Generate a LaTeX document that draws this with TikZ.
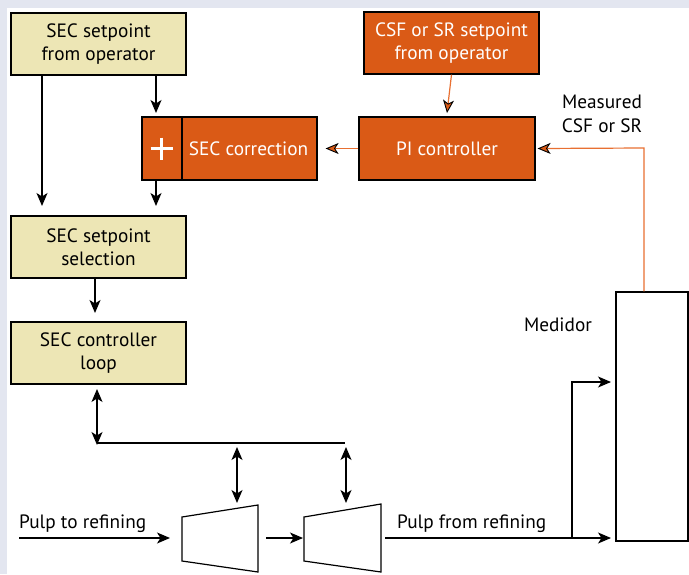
\documentclass[tikz,border=0pt]{standalone}
\usepackage{fontspec}
\setmainfont{PT Sans}
\usetikzlibrary{arrows.meta}
\definecolor{frameC}{RGB}{227,230,240}
\definecolor{beigeC}{RGB}{237,230,181}
\definecolor{rustC}{RGB}{218,90,22}
\definecolor{wireC}{RGB}{232,112,50}
\begin{document}
\begin{tikzpicture}[x=1pt,y=-1pt,
  font=\fontsize{19.3}{23.5}\selectfont,
  box/.style={draw=black, line width=1.2pt, minimum width=175pt,
    minimum height=62pt, align=center, inner sep=0pt},
  opbox/.style={box, fill=beigeC},
  ctlbox/.style={box, fill=rustC, text=white},
  tipk/.tip={Stealth[length=13pt,width=11pt,inset=3.5pt]},
  tipo/.tip={Stealth[length=13pt,width=11pt,inset=3.5pt,color=black,fill=rustC,line width=0.9pt]},
  flow/.style={line width=1.2pt, -tipk},
  twoway/.style={line width=1.2pt, tipk-tipk},
  plain/.style={line width=1.2pt},
  sig/.style={draw=wireC, line width=1.2pt, -tipo},
  lbl/.style={align=center, inner sep=0pt},
]
% page frame
\fill[frameC] (0,0) rectangle (689,574);
\fill[white] (7,8) rectangle (689,574);
\useasboundingbox (0,0) rectangle (689,574);

% blocks
\node[opbox] (secop) at (98.5,44) {SEC setpoint\\from operator};
\node[ctlbox] (csfop) at (451.5,43) {CSF or SR setpoint\\from operator};
\node[box, fill=rustC, minimum width=175pt, minimum height=63pt] (corr) at (229.5,148.5) {};
\node[text=white, lbl] (corrtxt) at (248.5,148.5) {SEC correction};
\draw[line width=1.2pt] (182,117) -- (182,180);
\draw[white, line width=2.4pt] (150.5,148.5) -- (172.5,148.5) (161.5,137.5) -- (161.5,159.5);
\node[ctlbox, minimum width=176pt, minimum height=63pt] (pi) at (447,148.5) {PI controller};
\node[opbox] (sel) at (98.5,247) {SEC setpoint\\selection};
\node[opbox] (loop) at (98.5,353) {SEC controller\\loop};
\node[box, minimum width=72pt, minimum height=249pt] (med) at (652,416.5) {};
\node[lbl] (medtxt) at (558,325) {Medidor};
\node[lbl] (meas) at (602,114) {Measured\\CSF or SR};
\node[lbl, anchor=base west] (pin) at (19,528) {Pulp to refining};
\node[lbl, anchor=base west] (pout) at (397,528) {Pulp from refining};

% refiners
\draw[plain, fill=white] (182,517) -- (258,505) -- (258,572) -- (182,561) -- cycle;
\draw[plain, fill=white] (304,517) -- (381,504) -- (381,572) -- (304,561) -- cycle;
\coordinate (r1in) at (182,538);
\coordinate (r1out) at (258,538);
\coordinate (r2in) at (304,538);
\coordinate (r2out) at (381,538);
\coordinate (r1top) at (237,503);
\coordinate (r2top) at (346,503);

% setpoint path
\draw[flow] (secop.south -| 42,0) -- (42,206);
\draw[flow] (secop.south -| 156,0) -- (156,113);
\draw[flow] (corr.south -| 156,0) -- (156,206);
\draw[flow] (sel.south -| 95,0) -- (95,313);

% control bus to refiners
\coordinate (busL) at (97,443);
\coordinate (busR) at (345,443);
\draw[twoway] (97,389) -- (97,445);
\draw[plain] (busL) -- (busR);
\draw[twoway] (237,447) -- (r1top);
\draw[twoway] (346,447) -- (r2top);

% pulp flow
\coordinate (feed) at (19,538);
\draw[flow] (feed) -- ([xshift=-12pt]r1in);
\draw[flow] ([xshift=8pt]r1out) -- ([xshift=-1pt]r2in);
\coordinate (split) at (572,538);
\draw[flow] ([xshift=4pt]r2out) -- (611,538);
\draw[flow] (split) -- (572,382) -- (611,382);

% CSF / SR loop
\draw[sig] (csfop.south) -- (447,113);
\draw[sig] (pi.west) -- ([xshift=8pt]corr.east);
\draw[sig] (med.north -| 644,0) -- (644,148) -- ([xshift=2pt]pi.east);
\end{tikzpicture}
\end{document}
